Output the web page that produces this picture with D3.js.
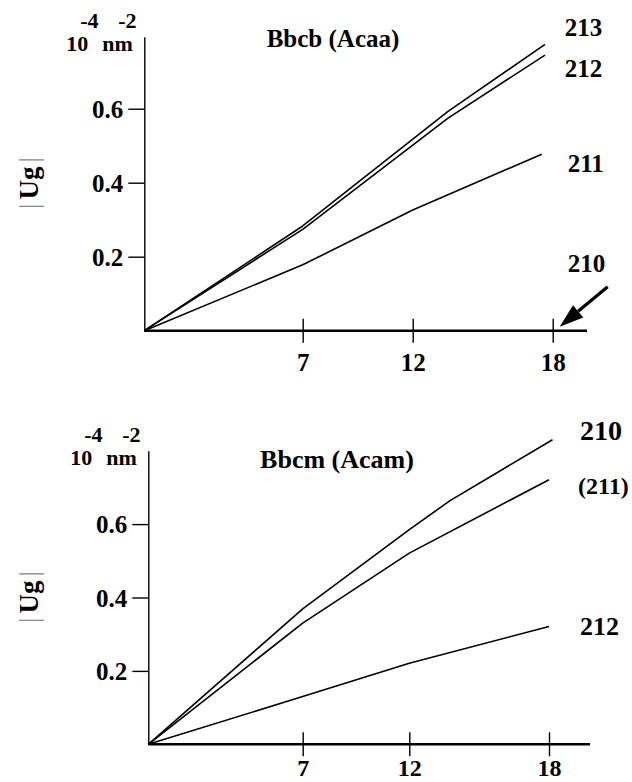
<!DOCTYPE html>
<html>
<head>
<meta charset="utf-8">
<script src="https://cdn.jsdelivr.net/npm/d3@7/dist/d3.min.js"></script>
<style>
  html, body { margin: 0; padding: 0; background: #fff; }
  svg { display: block; }
  text { font-family: "Liberation Serif", "Times New Roman", serif; font-weight: bold; fill: #000; }
</style>
</head>
<body>
<svg id="chart" width="632" height="782"></svg>
<script>
// ---------- DATA ----------
const xTicks = [7, 12, 18];
const yTicks = [0.2, 0.4, 0.6];

// Top panel: Bbcb (Acaa)
const topTitle = "Bbcb (Acaa)";
const top213x = [0, 7, 13.5, 17.67];
const top213y = [0, 0.283, 0.592, 0.774];
const top212x = [0, 7, 13.5, 17.67];
const top212y = [0, 0.274, 0.574, 0.745];
const top211x = [0, 7, 12, 17.53];
const top211y = [0, 0.178, 0.326, 0.477];
const top210x = [0, 18];
const top210y = [0, 0];

// Bottom panel: Bbcm (Acam)
const botTitle = "Bbcm (Acam)";
const bot210x = [0, 7, 12, 13.75, 18.15];
const bot210y = [0, 0.369, 0.585, 0.664, 0.83];
const bot211x = [0, 7, 12, 18];
const bot211y = [0, 0.33, 0.521, 0.721];
const bot212x = [0, 7, 12, 18];
const bot212y = [0, 0.13, 0.221, 0.321];

const zip = (xs, ys) => xs.map((x, i) => ({x, y: ys[i]}));

const svg = d3.select("#chart");

function panel(cfg) {
  const g = svg.append("g");
  const x = d3.scaleLinear().domain([0, 7, 12, 18]).range(cfg.xRange);
  const y = d3.scaleLinear().domain([0, cfg.yMax]).range([cfg.y0, cfg.yTop]);

  // y axis
  const ya = g.append("g").attr("transform", `translate(${x(0)},0)`)
    .call(d3.axisLeft(y).tickValues(yTicks).tickFormat(d3.format(".1f"))
      .tickSizeInner(16).tickSizeOuter(0).tickPadding(5));
  ya.select(".domain").attr("stroke", "#000").attr("stroke-width", 1.4);
  ya.selectAll(".tick line").attr("stroke", "#000").attr("stroke-width", 1.4);
  ya.selectAll(".tick text").attr("font-size", 25).attr("font-family", "Liberation Serif")
    .attr("font-weight", "bold").attr("dy", "0.34em").attr("fill", "#000");
  ya.attr("font-family", null).attr("font-size", null);

  // x axis
  const xa = g.append("g").attr("transform", `translate(0,${y(0)})`)
    .call(d3.axisBottom(x).tickValues(xTicks).tickFormat(d3.format("d")).tickSizeOuter(0));
  xa.select(".domain").remove();
  xa.selectAll(".tick line").attr("y1", -12).attr("y2", 12).attr("stroke", "#000").attr("stroke-width", 1.4);
  xa.selectAll(".tick text").attr("font-size", cfg.xLabelFs).attr("font-family", "Liberation Serif")
    .attr("font-weight", "bold").attr("y", cfg.xLabelOff).attr("dy", 0).attr("fill", "#000");
  xa.attr("font-family", null).attr("font-size", null);
  g.append("line").attr("x1", x(0)).attr("x2", x(cfg.xEnd))
    .attr("y1", y(0)).attr("y2", y(0)).attr("stroke", "#000").attr("stroke-width", 2.6);

  // lines
  const line = d3.line().x(d => x(d.x)).y(d => y(d.y));
  cfg.series.forEach(s => {
    g.append("path").datum(s.pts).attr("d", line)
      .attr("fill", "none").attr("stroke", "#000").attr("stroke-width", 1.6)
      .attr("stroke-linejoin", "round");
    g.append("text").attr("x", x(18) + s.dx).attr("y", y(s.ly))
      .attr("font-size", s.fs).text(s.name);
  });

  // title
  g.append("text").attr("x", cfg.titleX).attr("y", cfg.titleY)
    .attr("text-anchor", "middle").attr("font-size", cfg.titleFs).text(cfg.title);

  // unit label 10^-4 nm^-2
  const ux = x(0);
  g.append("text").attr("x", ux - 78).attr("y", cfg.yTop + 14).attr("font-size", 22).text("10");
  g.append("text").attr("x", ux - 42).attr("y", cfg.yTop + 14).attr("font-size", 22).text("nm");
  g.append("text").attr("x", ux - 64).attr("y", cfg.yTop - 9).attr("font-size", 22).text("-4");
  g.append("text").attr("x", ux - 26).attr("y", cfg.yTop - 9).attr("font-size", 22).text("-2");

  // y title |Ug|
  const yt = g.append("text")
    .attr("transform", `translate(38,${cfg.yTitleY}) rotate(-90)`)
    .attr("text-anchor", "middle").attr("font-size", 27);
  yt.append("tspan").attr("font-weight", "normal").attr("fill", "#888").text("|");
  yt.append("tspan").attr("dx", 4).text("Ug");
  yt.append("tspan").attr("dx", 4).attr("font-weight", "normal").attr("fill", "#888").text("|");

  return {g, x, y};
}

const p1 = panel({
  xRange: [144.3, 302.7, 412.7, 552.7], xEnd: 19.47,
  y0: 330.7, yTop: 36.7, yMax: 0.7946,
  xLabelOff: 40, xLabelFs: 25,
  title: topTitle, titleX: 333, titleY: 47, titleFs: 25,
  yTitleY: 183,
  series: [
    {name: "213", pts: zip(top213x, top213y), ly: 0.797, dx: 12, fs: 25},
    {name: "212", pts: zip(top212x, top212y), ly: 0.686, dx: 12, fs: 25},
    {name: "211", pts: zip(top211x, top211y), ly: 0.43, dx: 15, fs: 25},
    {name: "210", pts: zip(top210x, top210y), ly: 0.159, dx: 15, fs: 25}
  ]
});

// arrow pointing at the 210 curve (lying on the axis)
(function () {
  const tx = p1.x(18) + 7, ty = p1.y(0) - 4;
  const sx = tx + 48, sy = ty - 40;
  const ang = Math.atan2(ty - sy, tx - sx);
  const L = 24, W = 8;
  const bx = tx - L * Math.cos(ang), by = ty - L * Math.sin(ang);
  p1.g.append("line").attr("x1", sx).attr("y1", sy).attr("x2", bx).attr("y2", by)
    .attr("stroke", "#000").attr("stroke-width", 3.2);
  const px = -Math.sin(ang), py = Math.cos(ang);
  p1.g.append("path")
    .attr("d", `M${tx},${ty}L${bx + W * px},${by + W * py}L${bx - W * px},${by - W * py}Z`)
    .attr("fill", "#000");
})();

panel({
  xRange: [148.3, 302.7, 409.3, 549], xEnd: 19.76,
  y0: 744.3, yTop: 450.7, yMax: 0.8,
  xLabelOff: 32, xLabelFs: 24,
  title: botTitle, titleX: 337, titleY: 468, titleFs: 26,
  yTitleY: 597,
  series: [
    {name: "210", pts: zip(bot210x, bot210y), ly: 0.83, dx: 31, fs: 28},
    {name: "(211)", pts: zip(bot211x, bot211y), ly: 0.682, dx: 29, fs: 24},
    {name: "212", pts: zip(bot212x, bot212y), ly: 0.298, dx: 31, fs: 26}
  ]
});
</script>
</body>
</html>
